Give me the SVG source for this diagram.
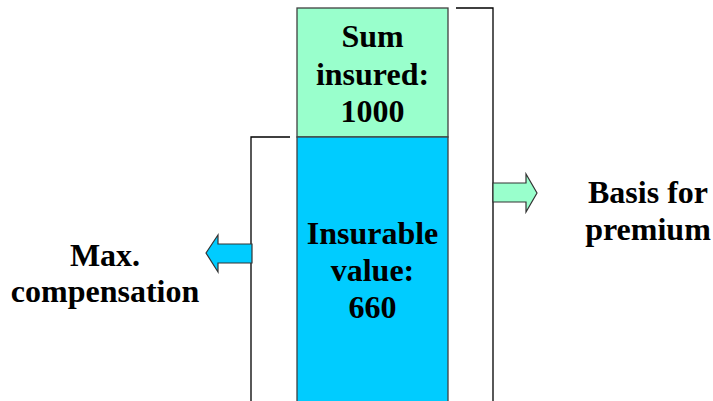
<svg xmlns="http://www.w3.org/2000/svg" width="713" height="401" viewBox="0 0 713 401">
<style>
text{font-family:"Liberation Serif","Times New Roman",serif;font-weight:bold;font-size:32px;fill:#000;text-anchor:middle}
.box{stroke:#404040;stroke-width:1.3}
.line{fill:none;stroke:#000;stroke-width:1.3}
.arrow{stroke:#333;stroke-width:1.2;stroke-linejoin:miter}
</style>
<rect width="713" height="401" fill="#fff"/>
<g id="sum-insured">
<rect class="box" x="297" y="8" width="151" height="129" fill="#99FFCC"/>
<text x="372.5" y="47">Sum</text>
<text x="372.5" y="85">insured:</text>
<text x="372.5" y="122">1000</text>
</g>
<g id="insurable-value">
<rect class="box" x="297" y="137" width="151" height="275" fill="#00CCFF"/>
<text x="372.5" y="244">Insurable</text>
<text x="372.5" y="281">value:</text>
<text x="372.5" y="318">660</text>
</g>
<g id="max-compensation">
<text x="105" y="266">Max.</text>
<text x="105" y="302">compensation</text>
</g>
<g id="basis-for-premium">
<text x="648" y="203">Basis for</text>
<text x="648" y="240">premium</text>
</g>
<g id="connectors">
<polyline class="line" points="290,137 251,137 251,401"/>
<polyline class="line" points="456,8 493,8 493,401"/>
<polygon class="arrow" fill="#00CCFF" points="206,253 218,235 218,244 252,244 252,263 218,263 218,272"/>
<polygon class="arrow" fill="#99FFCC" points="493,183 526,183 526,174 537,193 526,212 526,202 493,202"/>
</g>
</svg>
